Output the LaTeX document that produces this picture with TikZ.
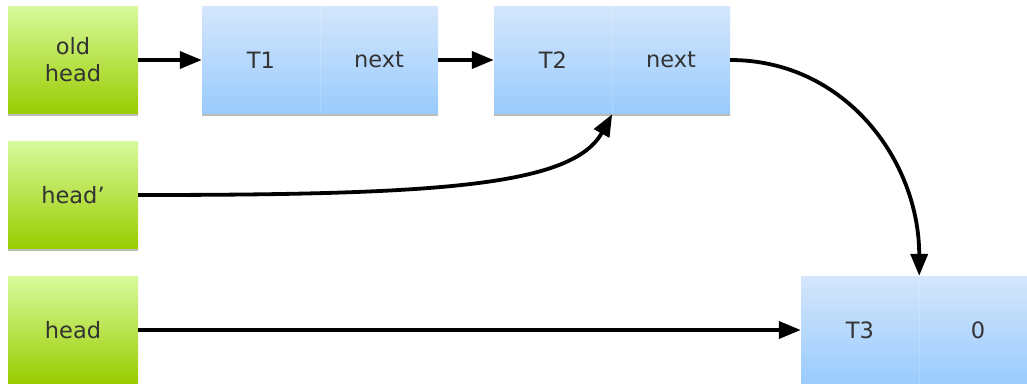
\documentclass[tikz,border=0pt]{standalone}
\usepackage{fontspec}
\setmainfont{DejaVu Sans}
\usetikzlibrary{arrows.meta}
\definecolor{gtop}{HTML}{D8FA9C}
\definecolor{gbot}{HTML}{99CC00}
\definecolor{btop}{HTML}{D4E6FC}
\definecolor{bbot}{HTML}{99CBFD}
\definecolor{txt}{HTML}{333333}
\definecolor{shad}{HTML}{BBBBBB}
\tikzset{
  gbox/.style={top color=gtop, bottom color=gbot, draw=none, minimum width=130pt, minimum height=108pt, inner sep=0pt, align=center, text=txt, font=\fontsize{22.5}{27}\selectfont},
  bcell/.style={top color=btop, bottom color=bbot, draw=none, minimum width=118pt, minimum height=108pt, inner sep=0pt, text=txt, font=\fontsize{22.5}{27}\selectfont},
  arr/.style={line width=3.8pt, -{Triangle[length=22pt,width=17pt]}},
  sh/.style={shad, line width=1.5pt},
  sep/.style={draw=white, draw opacity=0.18, line width=0.6pt}
}
\begin{document}
\begin{tikzpicture}[x=1pt,y=-1pt]
\clip (0,0) rectangle (1027,383);
\fill[white] (0,0) rectangle (1027,383);
% green boxes
\node[gbox] (old) at (73,60) {old\\head};
\node[gbox] (hp) at (73,195) {head’};
\node[gbox] (hd) at (73,330) {head};
% blue boxes
\node[bcell] (t1) at (261,60) {T1};
\node[bcell] (t1n) at (379,60) {next};
\node[bcell] (t2) at (553,60) {T2};
\node[bcell] (t2n) at (671,60) {next};
\node[bcell] (t3) at (860,330) {T3};
\node[bcell] (t3n) at (978,330) {0};
% shadows
\foreach \a/\b in {old/old, hp/hp, hd/hd, t1/t1n, t2/t2n, t3/t3n}{
  \draw[sh] ([yshift=-1pt]\a.south west) -- ([yshift=-1pt]\b.south east);
}
% dividers
\draw[sep] (t1.north east) -- (t1.south east);
\draw[sep] (t2.north east) -- (t2.south east);
\draw[sep] (t3.north east) -- (t3.south east);
% connectors
\draw[arr] (old.east) -- (t1.west);
\draw[arr] (t1n.east) -- (t2.west);
\draw[arr] (hp.east) .. controls +(300,0) and +(-40,72) .. (t2.south east);
\draw[arr] (t2n.east) .. controls +(115,0) and +(0,-115) .. (t3.north east);
\draw[arr] (hd.east) -- (t3.west);
\end{tikzpicture}
\end{document}
